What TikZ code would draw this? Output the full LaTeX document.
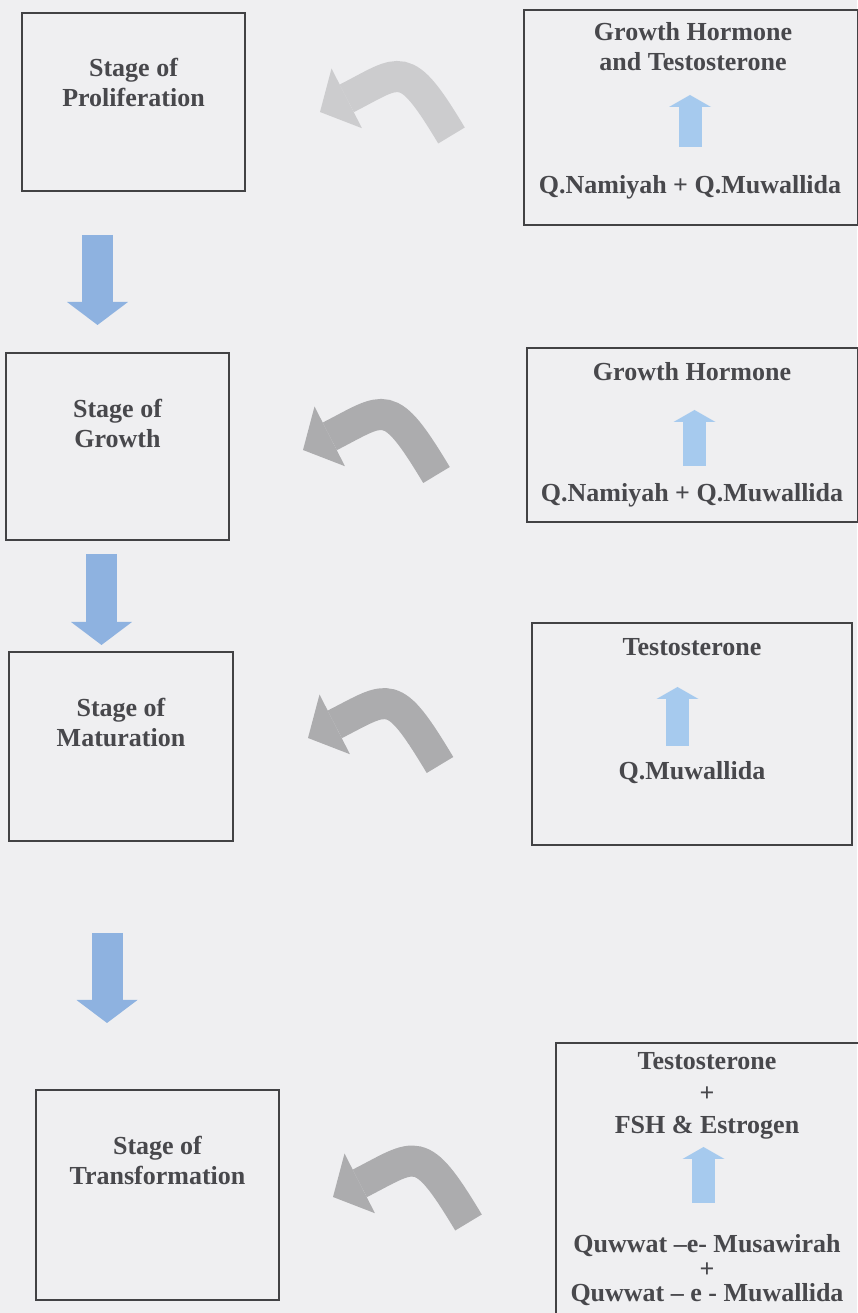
\documentclass[tikz,border=0pt]{standalone}
\usepackage{fontspec}
\setmainfont{Liberation Serif}
\usetikzlibrary{arrows.meta,positioning}
\definecolor{paper}{RGB}{239,239,241}
\definecolor{inkgray}{RGB}{72,72,76}
\definecolor{framegray}{RGB}{66,66,68}
\definecolor{flowblue}{RGB}{142,178,224}
\definecolor{hormblue}{RGB}{166,202,238}
\definecolor{bendgray}{RGB}{172,172,174}
\definecolor{bendlight}{RGB}{204,204,206}
\tikzset{
  % ---- boxes ------------------------------------------------------------
  stagebox/.style={draw=framegray, line width=2pt, inner sep=0pt},
  hormbox/.style={stagebox},
  % ---- texts ------------------------------------------------------------
  txt/.style={font=\bfseries\fontsize{26}{30}\selectfont, text=inkgray,
              align=center, inner sep=0pt},
  % ---- arrows -----------------------------------------------------------
  flow/.style={draw=flowblue, line width=31pt,
               -{Triangle[length=23pt,width=61pt,line width=0pt]}},
  lift/.style={draw=hormblue, line width=23pt,
               -{Triangle[length=12pt,width=42pt,line width=0pt]}},
  bendarrow/.style={draw=bendgray, line width=31pt,
               -{Triangle[length=30pt,width=67pt,line width=0pt]}},
}

\begin{document}
\begin{tikzpicture}[x=1pt,y=1pt]

\fill[paper] (0,0) rectangle (857,1313);
\useasboundingbox (0,0) rectangle (857,1313);

% ---- stages (left) --------------------------------------------------------
\node[stagebox, minimum width=223pt, minimum height=178pt] (prolif) at (133.5,1211) {};
\node[txt] (prolift) at (133.5,1230.5) {Stage of\\Proliferation};

\node[stagebox, minimum width=223pt, minimum height=187pt] (growth) at (117.5,866.5) {};
\node[txt] (growtht) at (117.5,890) {Stage of\\Growth};

\node[stagebox, minimum width=224pt, minimum height=189pt] (matur) at (121,566.5) {};
\node[txt] (matutt) at (121,590.5) {Stage of\\Maturation};

\node[stagebox, minimum width=243pt, minimum height=210pt] (transf) at (157.5,118) {};
\node[txt] (transft) at (157.5,153) {Stage of\\Transformation};

% ---- hormones (right) -----------------------------------------------------
\node[hormbox, minimum width=334pt, minimum height=215pt] (hormA) at (691,1195.5) {};
\node[txt] (hormAt) at (693,1266) {Growth Hormone\\and Testosterone};
\node[txt] (hormAb) at (690,1126) {Q.Namiyah + Q.Muwallida};

\node[hormbox, minimum width=331pt, minimum height=174pt] (hormB) at (692.5,878) {};
\node[txt] (hormBt) at (692,941) {Growth Hormone};
\node[txt] (hormBb) at (692,818) {Q.Namiyah + Q.Muwallida};

\node[hormbox, minimum width=320pt, minimum height=222pt] (hormC) at (692,579) {};
\node[txt] (hormCt) at (692,666) {Testosterone};
\node[txt] (hormCb) at (692,540) {Q.Muwallida};

\node[hormbox, minimum width=314pt, minimum height=287pt] (hormD) at (713,126.5) {};
\node[txt] (hormDt) at (707,217.5) {Testosterone\\[2pt]+\\[2pt]FSH \& Estrogen};
\node[txt] (hormDb) at (707,42.5) {Quwwat –e- Musawirah\\[-5.5pt]+\\[-5.5pt]Quwwat – e - Muwallida};

% ---- down arrows between stages ------------------------------------------
\coordinate (f1a) at (97.5,1078);  \coordinate (f1b) at (97.5,988);
\coordinate (f2a) at (101.5,759);  \coordinate (f2b) at (101.5,668);
\coordinate (f3a) at (107,380);    \coordinate (f3b) at (107,290);
\draw[flow] (f1a) -- (f1b);
\draw[flow] (f2a) -- (f2b);
\draw[flow] (f3a) -- (f3b);

% ---- up arrows inside hormone boxes --------------------------------------
\coordinate (uAa) at (690,1166);   \coordinate (uAb) at (690,1218);
\coordinate (uBa) at (694.5,847);  \coordinate (uBb) at (694.5,903);
\coordinate (uCa) at (677.5,567);  \coordinate (uCb) at (677.5,626);
\coordinate (uDa) at (703.5,110);  \coordinate (uDb) at (703.5,166);
\draw[lift] (uAa) -- (uAb);
\draw[lift] (uBa) -- (uBb);
\draw[lift] (uCa) -- (uCb);
\draw[lift] (uDa) -- (uDb);

% ---- curved arrows --------------------------------------------------------
\coordinate (cAt) at (451.5,1177.5); \coordinate (cAh) at (320,1201);
\coordinate (cBt) at (436.5,838);    \coordinate (cBh) at (303,863);
\coordinate (cCt) at (440,548);      \coordinate (cCh) at (308,575);
\coordinate (cDt) at (468.5,90.5);   \coordinate (cDh) at (333,116);
\draw[bendarrow, draw=bendlight] (cAt) to[out=121, in=27, looseness=1.75] (cAh);
\draw[bendarrow] (cBt) to[out=121, in=27, looseness=1.75] (cBh);
\draw[bendarrow] (cCt) to[out=121, in=27, looseness=1.75] (cCh);
\draw[bendarrow] (cDt) to[out=121, in=27, looseness=1.75] (cDh);

\end{tikzpicture}
\end{document}
